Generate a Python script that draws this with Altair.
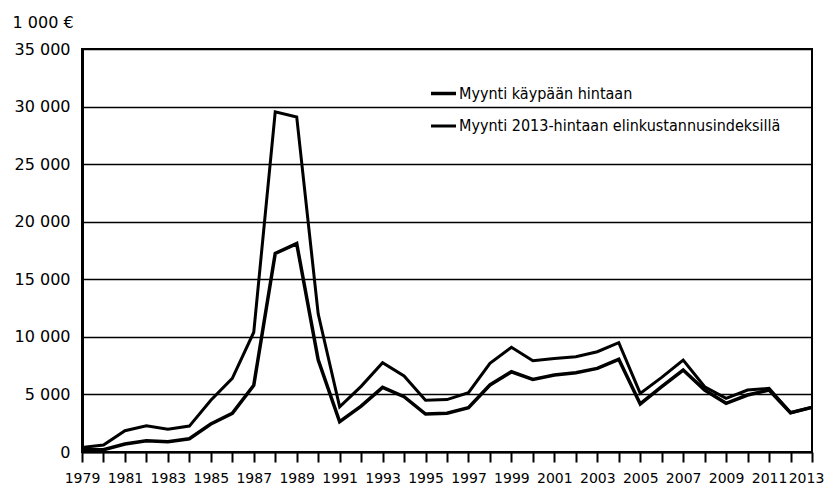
import altair as alt
import pandas as pd

years = list(range(1979, 2014))
real_2013 = [400, 600, 1850, 2280, 1970, 2250, 4500, 6400, 10400, 29550, 29100, 12000,
             3930, 5700, 7750, 6600, 4500, 4550, 5150, 7700, 9090, 7930, 8130, 8270,
             8710, 9490, 5090, 6480, 7990, 5670, 4660, 5380, 5530, 3410, 3880]
nominal = [200, 200, 700, 980, 900, 1150, 2430, 3360, 5800, 17250, 18100, 8000,
           2630, 3990, 5610, 4800, 3300, 3360, 3850, 5820, 6970, 6310, 6680, 6890,
           7260, 8050, 4170, 5670, 7120, 5380, 4230, 4950, 5380, 3410, 3880]
series_names = ["Myynti käypään hintaan", "Myynti 2013-hintaan elinkustannusindeksillä"]
y_ticks = [0, 5000, 10000, 15000, 20000, 25000, 30000, 35000]

rows = []
for y, n, r in zip(years, nominal, real_2013):
    rows.append({"vuosi": y, "arvo": n, "sarja": series_names[0]})
    rows.append({"vuosi": y, "arvo": r, "sarja": series_names[1]})
df = pd.DataFrame(rows)

font = "DejaVu Sans"

legend_cfg = dict(title=None, orient="none", legendX=347, legendY=30,
                  symbolType="stroke", symbolSize=625, labelLimit=0,
                  labelFont="DejaVu Sans Condensed", labelFontSize=16,
                  labelColor="black", labelOffset=1, rowPadding=10)

chart = alt.Chart(df).mark_line(strokeJoin="miter").encode(
    x=alt.X("vuosi:Q",
            scale=alt.Scale(domain=[1979, 2013], nice=False, zero=False),
            axis=alt.Axis(values=years, title=None, grid=False,
                          labelExpr="(datum.value - 1979) % 2 == 0 ? datum.value : ''",
                          tickSize=10, tickWidth=2, tickColor="black",
                          domainColor="black", domainWidth=2,
                          labelFont=font, labelFontSize=14, labelColor="black",
                          labelOffset={"condition": {"test": "datum.value == 2013", "value": -6},
                                       "value": 0},
                          labelPadding=9, labelFlush=False, labelOverlap=False)),
    y=alt.Y("arvo:Q",
            scale=alt.Scale(domain=[0, 35000], nice=False),
            axis=alt.Axis(values=y_ticks, title="1 000 €", titleAngle=0,
                          titleAlign="left", titleBaseline="middle",
                          titleX=-70, titleY=-27, titleFont=font, titleFontSize=16,
                          titleFontWeight="normal", titleColor="black",
                          labelExpr="replace(format(datum.value, ','), ',', ' ')",
                          ticks=False, labelPadding=12,
                          labelFont=font, labelFontSize=16, labelColor="black",
                          grid=True, gridColor="black", gridWidth=1.5, gridOpacity=1,
                          domainColor="black", domainWidth=3)),
    color=alt.Color("sarja:N",
                    scale=alt.Scale(domain=series_names, range=["black", "black"]),
                    legend=alt.Legend(**legend_cfg)),
    strokeWidth=alt.StrokeWidth("sarja:N",
                                scale=alt.Scale(domain=series_names, range=[3.5, 3.0]),
                                legend=alt.Legend(**legend_cfg)),
).properties(
    width=730, height=403,
    autosize=alt.AutoSizeParams(type="none"),
    padding={"left": 74, "top": 41, "right": 13, "bottom": 33},
    background="white",
).configure_view(stroke="black", strokeWidth=2)

chart.save("out.html", embed_options={"renderer": "svg", "actions": False})
